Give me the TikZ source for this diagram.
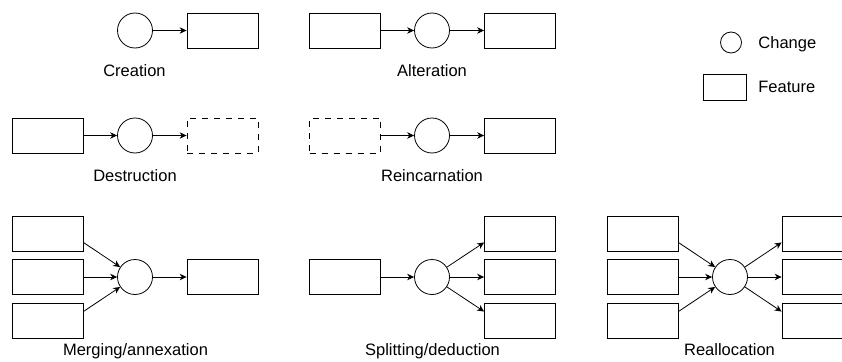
\documentclass[tikz,border=0pt]{standalone}
\usepackage{fontspec}
\setmainfont{Liberation Sans}
\usetikzlibrary{arrows.meta,calc}

\begin{document}
\begin{tikzpicture}[x=1pt, y=-1pt, line width=0.8pt,
    chg/.style={circle, draw, minimum size=35pt, inner sep=0pt},
    feat/.style={rectangle, draw, minimum width=71pt, minimum height=35pt, inner sep=0pt},
    gone/.style={feat, dash pattern=on 6pt off 6pt},
    lbl/.style={anchor=base, inner sep=0pt, font=\fontsize{16.5}{20}\selectfont},
    arr/.style={-{Stealth[length=7pt,width=6.5pt]}}]
        \clip (0,0) rectangle (842,361);

        % creation
        \node[chg] (c1) at (135, 30.5) {};
        \node[feat] (f1) at (222.5, 30.5) {};
        \node[lbl] (l1) at (134.5, 76) {Creation};

        % alteration
        \node[feat] (f2a) at (345, 30.5) {};
        \node[chg] (c2) at (432, 30.5) {};
        \node[feat] (f2b) at (520, 30.5) {};
        \node[lbl] (l2) at (432, 76) {Alteration};

        % destruction
        \node[feat] (f3a) at (47.5, 135.5) {};
        \node[chg] (c3) at (135, 135.5) {};
        \node[gone] (f3b) at (222.5, 135.5) {};
        \node[lbl] (l3) at (135, 181) {Destruction};

        % reincarnation
        \node[gone] (f4a) at (345, 135.5) {};
        \node[chg] (c4) at (432, 135.5) {};
        \node[feat] (f4b) at (520, 135.5) {};
        \node[lbl] (l4) at (432, 181) {Reincarnation};

        % merging
        \node[feat] (f5a) at (47.5, 233.5) {};
        \node[feat] (f5b) at (47.5, 277) {};
        \node[feat] (f5c) at (47.5, 320.5) {};
        \node[chg] (c5) at (135, 277) {};
        \node[feat] (f5d) at (222.5, 277) {};
        \node[lbl] (l5) at (135.5, 355.5) {Merging/annexation};

        % splitting
        \node[feat] (f6a) at (345, 277) {};
        \node[chg] (c6) at (432, 277) {};
        \node[feat] (f6b) at (520, 233.5) {};
        \node[feat] (f6c) at (520, 277) {};
        \node[feat] (f6d) at (520, 320.5) {};
        \node[lbl] (l6) at (432.5, 355.5) {Splitting/deduction};

        % reallocation
        \node[feat] (f7a) at (642.5, 233.5) {};
        \node[feat] (f7b) at (642.5, 277) {};
        \node[feat] (f7c) at (642.5, 320.5) {};
        \node[chg] (c7) at (730, 277) {};
        \node[feat] (f7d) at (817.5, 233.5) {};
        \node[feat] (f7e) at (817.5, 277) {};
        \node[feat] (f7f) at (817.5, 320.5) {};
        \node[lbl] (l7) at (729.5, 355.5) {Reallocation};

        % legend
        \node[chg, minimum size=21pt] (kc) at (731, 42.5) {};
        \node[lbl, anchor=base west] (kct) at (758, 48.5) {Change};
        \node[feat, minimum width=43pt, minimum height=26pt] (kf) at (724.5, 87) {};
        \node[lbl, anchor=base west] (kft) at (758, 92.5) {Feature};

        \draw (c1) edge[arr] (f1)
              (f2a) edge[arr] (c2)
              (c2) edge[arr] (f2b)
              (f3a) edge[arr] (c3)
              (c3) edge[arr] (f3b)
              (f4a) edge[arr] (c4)
              (c4) edge[arr] (f4b);

        \draw ($(f5a.east)!.5!(f5a.south east)$) edge[arr] (c5)
              (f5b) edge[arr] (c5)
              ($(f5c.east)!.5!(f5c.north east)$) edge[arr] (c5)
              (c5) edge[arr] (f5d);

        \draw (f6a) edge[arr] (c6)
              (c6) edge[arr] ($(f6b.west)!.5!(f6b.south west)$)
              (c6) edge[arr] (f6c.west)
              (c6) edge[arr] ($(f6d.west)!.5!(f6d.north west)$);

        \draw ($(f7a.east)!.5!(f7a.south east)$) edge[arr] (c7)
              (f7b) edge[arr] (c7)
              ($(f7c.east)!.5!(f7c.north east)$) edge[arr] (c7)
              (c7) edge[arr] ($(f7d.west)!.5!(f7d.south west)$)
              (c7) edge[arr] (f7e.west)
              (c7) edge[arr] ($(f7f.west)!.5!(f7f.north west)$);
    \end{tikzpicture}
\end{document}
